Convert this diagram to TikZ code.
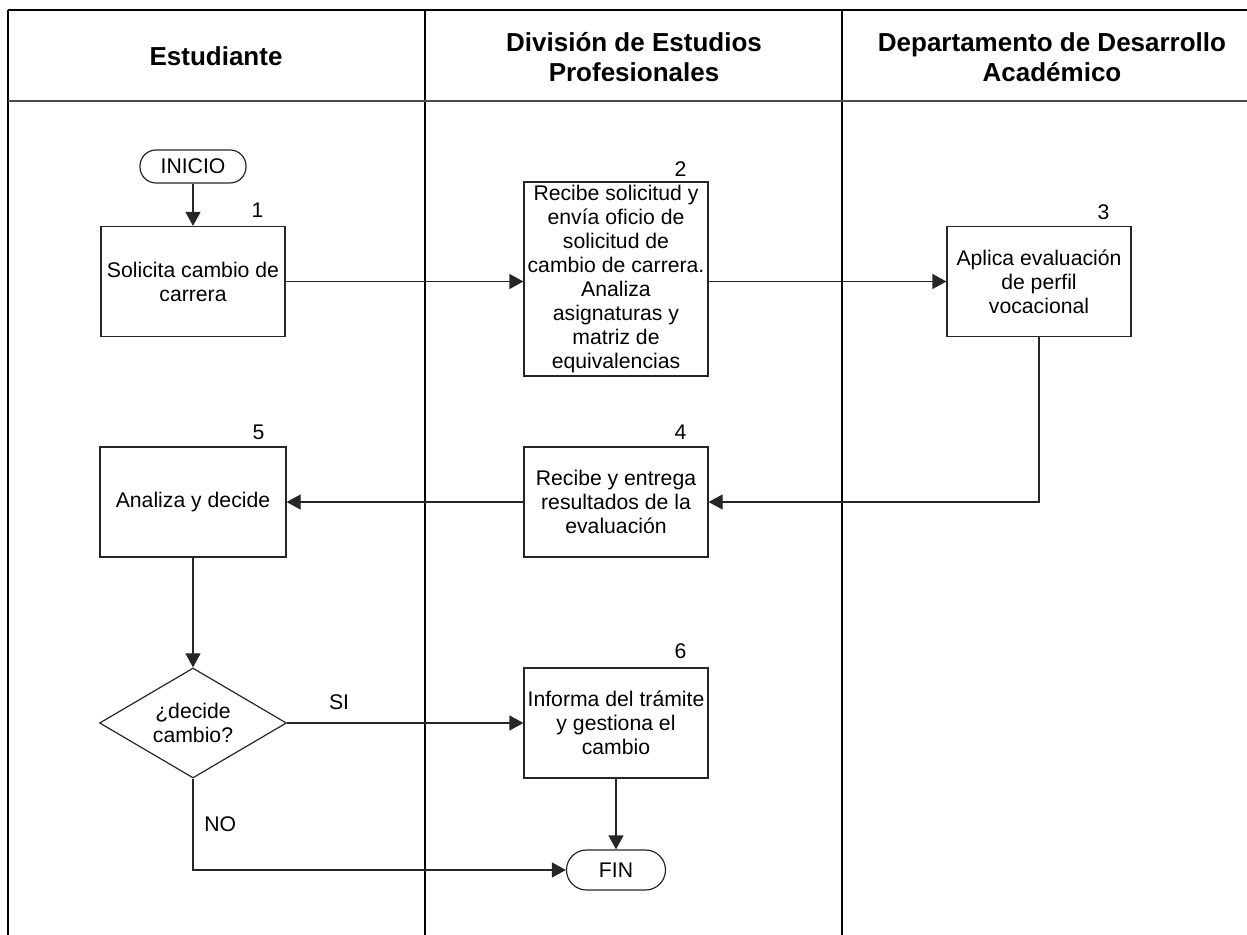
\documentclass[tikz,border=0pt]{standalone}
\usepackage{fontspec}
\setmainfont{Liberation Sans}
\usetikzlibrary{arrows.meta,shapes.geometric}

\tikzset{
  caja/.style={draw=black!85, line width=0.6pt, minimum width=92pt, minimum height=55pt,
    inner sep=0.5pt, align=center, font=\fontsize{10.6pt}{12pt}\selectfont},
  terminal/.style={draw=black!85, line width=0.6pt, rounded corners=8pt, minimum width=53pt,
    minimum height=16.5pt, inner sep=1pt, font=\fontsize{10.6pt}{12pt}\selectfont},
  decision/.style={draw=black!85, line width=0.6pt, diamond, aspect=1.7, minimum width=93.5pt,
    minimum height=55pt, inner sep=0pt, align=center, font=\fontsize{10.6pt}{12pt}\selectfont},
  num/.style={font=\fontsize{10.6pt}{12pt}\selectfont},
  titulo/.style={align=center, font=\bfseries\fontsize{13pt}{15pt}\selectfont},
  flecha/.style={line width=0.6pt, draw=black!85, -{Triangle[length=7pt,width=7.5pt]}},
  linea/.style={line width=1pt}
}

\begin{document}
\begin{tikzpicture}[x=0.5pt,y=-0.5pt]
    \useasboundingbox (0,0) rectangle (1247,935);

    % Marco y columnas
    \draw[linea] (8,10) -- (1247,10);
    \draw[linea] (8,10) -- (8,935);
    \draw[linea] (425,10) -- (425,935);
    \draw[linea] (842,10) -- (842,935);
    \draw[line width=0.75pt, black!70] (8,101) -- (1247,101);

    % Encabezados
    \node[titulo] (col1) at (216,56) {Estudiante};
    \node[titulo] (col2) at (634,57) {División de Estudios\\Profesionales};
    \node[titulo] (col3) at (1052,57) {Departamento de Desarrollo\\Académico};

    % Actividades
    \node[terminal] (ini) at (193,166.5) {INICIO};
    \node[caja] (b1) at (193,281.5) {Solicita cambio de\\carrera};
    \node[caja, minimum height=97pt] (b2) at (616,279) {Recibe solicitud y\\envía oficio de\\solicitud de\\cambio de carrera.\\Analiza\\asignaturas y\\matriz de\\equivalencias};
    \node[caja] (b3) at (1039,281.5) {Aplica evaluación\\de perfil\\vocacional};
    \node[caja] (b4) at (616,502) {Recibe y entrega\\resultados de la\\evaluación};
    \node[caja, minimum width=93pt] (b5) at (193,502) {Analiza y decide};
    \node[decision] (dec) at (193,723) {¿decide\\cambio?};
    \node[caja] (b6) at (616,723) {Informa del trámite\\y gestiona el\\cambio};
    \node[terminal, minimum width=49.5pt, minimum height=20pt, rounded corners=10pt] (fin) at (616,870) {FIN};

    % Numeros
    \node[num] (n1) at ([xshift=-14pt,yshift=8pt]b1.north east) {1};
    \node[num] (n2) at ([xshift=-14pt,yshift=6pt]b2.north east) {2};
    \node[num] (n3) at ([xshift=-14pt,yshift=7pt]b3.north east) {3};
    \node[num] (n4) at ([xshift=-14pt,yshift=7pt]b4.north east) {4};
    \node[num] (n5) at ([xshift=-14pt,yshift=7pt]b5.north east) {5};
    \node[num] (n6) at ([xshift=-14pt,yshift=8pt]b6.north east) {6};

    % Flujo
    \draw[flecha] (ini) -- (b1);
    \draw[flecha] (b1.east) -- (b1.east -| b2.west);
    \draw[flecha] (b3.west -| b2.east) -- (b3.west);
    \draw[flecha] (b3.south) |- (b4.east);
    \draw[flecha] (b4.west) -- (b5.east);
    \draw[flecha] (b5) -- (dec);
    \draw[flecha] (dec.east) -- node[pos=0.22, above=3pt, num] {SI} (b6.west);
    \draw[flecha] (b6) -- (fin);
    \draw[flecha] (dec.south) |- node[pos=0.25, right=2pt, num] {NO} (fin.west);
\end{tikzpicture}
\end{document}
